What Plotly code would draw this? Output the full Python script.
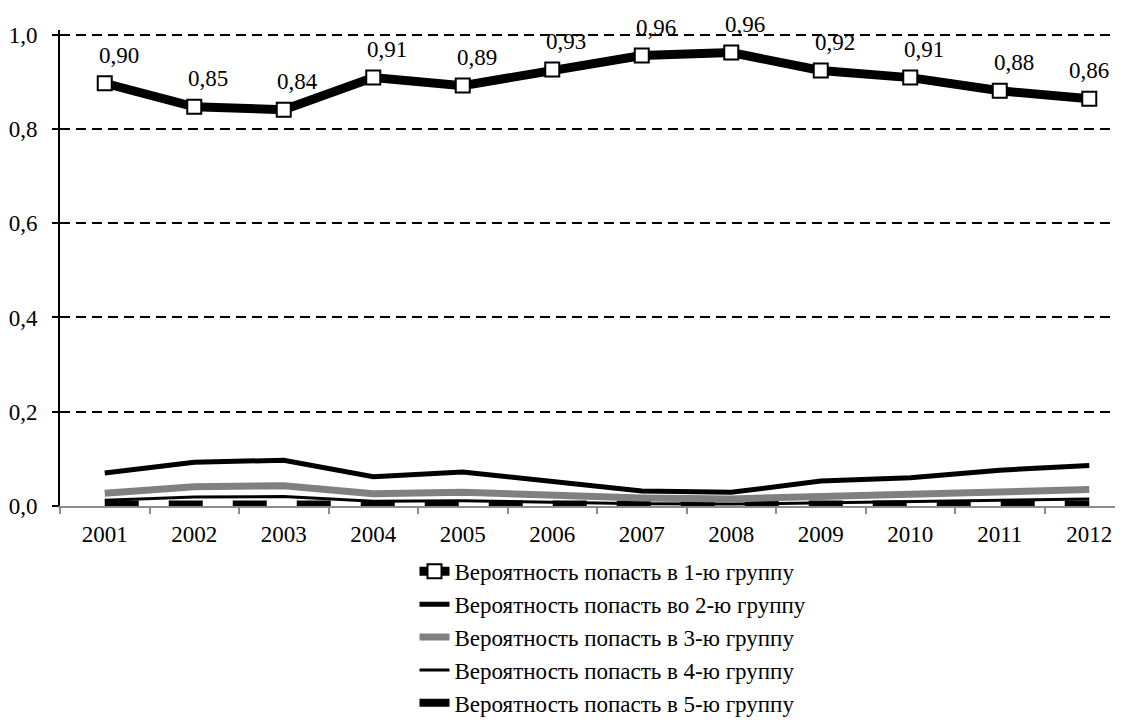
import plotly.graph_objects as go

years = ["2001", "2002", "2003", "2004", "2005", "2006", "2007", "2008", "2009", "2010", "2011", "2012"]
group1 = [0.897, 0.847, 0.841, 0.909, 0.892, 0.926, 0.956, 0.962, 0.924, 0.909, 0.881, 0.864]
group2 = [0.070, 0.093, 0.097, 0.062, 0.072, 0.051, 0.032, 0.029, 0.053, 0.060, 0.076, 0.086]
group3 = [0.027, 0.041, 0.043, 0.026, 0.029, 0.022, 0.017, 0.015, 0.020, 0.024, 0.030, 0.035]
group4 = [0.012, 0.019, 0.020, 0.010, 0.011, 0.008, 0.005, 0.004, 0.007, 0.009, 0.012, 0.015]
group5 = [0.003, 0.003, 0.003, 0.002, 0.002, 0.002, 0.001, 0.001, 0.002, 0.002, 0.002, 0.003]
names = [
    "Вероятность попасть в 1-ю группу",
    "Вероятность попасть во 2-ю группу",
    "Вероятность попасть в 3-ю группу",
    "Вероятность попасть в 4-ю группу",
    "Вероятность попасть в 5-ю группу",
]

FONT = "Liberation Serif, Times New Roman, serif"
FS = 23

fig = go.Figure()
fig.add_trace(go.Scatter(
    x=years, y=group5, name=names[4], mode="lines",
    line=dict(color="black", width=8, dash="34px,30px"),
    legendgroup="g5", legendrank=5,
))
fig.add_trace(go.Scatter(
    x=years, y=group4, name=names[3], mode="lines",
    line=dict(color="black", width=3),
    legendgroup="g4", legendrank=4,
))
fig.add_trace(go.Scatter(
    x=years, y=group3, name=names[2], mode="lines",
    line=dict(color="#808080", width=7),
    legendgroup="g3", legendrank=3,
))
fig.add_trace(go.Scatter(
    x=years, y=group2, name=names[1], mode="lines",
    line=dict(color="black", width=5),
    legendgroup="g2", legendrank=2,
))
fig.add_trace(go.Scatter(
    x=years, y=group1, name=names[0], mode="lines+markers",
    line=dict(color="black", width=9),
    marker=dict(symbol="square", size=14, color="white", line=dict(color="black", width=2)),
    legendgroup="g1", legendrank=1,
))

for i, v in enumerate(group1):
    fig.add_annotation(
        x=i, y=v, xref="x", yref="y",
        text=f"{v:.2f}".replace(".", ","), showarrow=False,
        xanchor="center", yanchor="middle",
        xshift=(0 if i == len(group1) - 1 else 14), yshift=28,
        font=dict(family=FONT, size=FS, color="black"),
    )

fig.update_layout(
    width=1115, height=717,
    margin=dict(l=52, r=0, t=22, b=219, autoexpand=False),
    paper_bgcolor="white", plot_bgcolor="white",
    font=dict(family=FONT, size=FS, color="black"),
    separators=", ",
    showlegend=True,
    legend=dict(
        orientation="v", x=0.3335, xanchor="left", y=-0.092, yanchor="top",
        font=dict(family=FONT, size=FS, color="black"),
        traceorder="grouped", tracegroupgap=0,
        bgcolor="rgba(0,0,0,0)", itemwidth=30,
    ),
)
fig.update_xaxes(
    type="category", range=[-0.5, 11.377], automargin=False,
    showline=True, linecolor="#8c8c8c", linewidth=2,
    ticks="outside", tickson="boundaries", ticklen=6, tickcolor="#8c8c8c", tickwidth=1.5,
    ticklabelstandoff=6,
    showgrid=False, zeroline=False,
    tickfont=dict(family=FONT, size=FS, color="black"),
)
fig.update_yaxes(
    range=[0, 1.01], tickvals=[0, 0.2, 0.4, 0.6, 0.8, 1.0], tickformat=".1f",
    automargin=False,
    showline=True, linecolor="black", linewidth=2,
    ticks="outside", ticklen=6, tickcolor="black", tickwidth=1.5,
    ticklabelstandoff=10,
    showgrid=True, gridcolor="black", gridwidth=1.5, griddash="10px,6px",
    zeroline=False,
    tickfont=dict(family=FONT, size=FS, color="black"),
)

fig.write_html("out.html")
